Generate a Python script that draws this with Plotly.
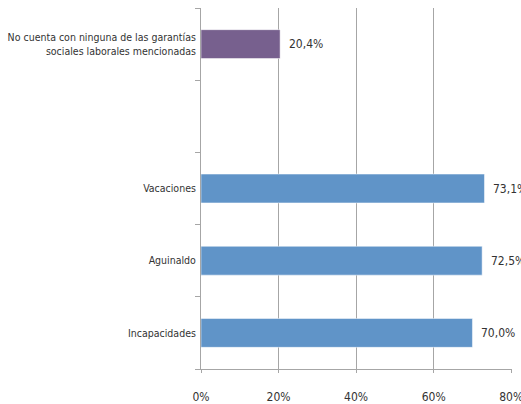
import plotly.graph_objects as go

# data (bottom to top)
categories = [
    "Incapacidades",
    "Aguinaldo",
    "Vacaciones",
    " ",
    "No cuenta con ninguna de las garantías<br>sociales laborales mencionadas",
]
values = [70.0, 72.5, 73.1, None, 20.4]
labels = ["70,0%", "72,5%", "73,1%", "", "20,4%"]
bar_colors = ["#6094c8", "#6094c8", "#6094c8", "#6094c8", "#77608e"]
x_ticks = [0, 20, 40, 60, 80]
x_ticktext = ["0%", "20%", "40%", "60%", "80%"]

FONT = "'Liberation Sans Narrow', 'DejaVu Sans Condensed', sans-serif"
line_col = "#a6a6a6"

fig = go.Figure()
fig.add_trace(go.Bar(
    y=categories, x=values, orientation="h",
    marker=dict(color=bar_colors, line=dict(color="#ffffff", width=0.5)),
    width=0.4,
    hoverinfo="skip",
))

# value labels right of each bar
for c, v, t in zip(categories, values, labels):
    if v is None:
        continue
    fig.add_annotation(x=v, y=c, text=t, showarrow=False,
                       xanchor="left", xshift=7,
                       font=dict(family=FONT, size=12, color="#333333"))

fig.update_layout(
    width=521, height=404,
    margin=dict(l=201, r=9, t=8, b=35),
    paper_bgcolor="white", plot_bgcolor="white",
    showlegend=False,
    font=dict(family=FONT, size=12, color="#333333"),
)
fig.update_xaxes(
    range=[0, 80.2], tickvals=x_ticks, ticktext=x_ticktext,
    showgrid=True, gridcolor=line_col, gridwidth=1,
    showline=True, linecolor=line_col, linewidth=1,
    ticks="outside", ticklen=3, tickcolor=line_col,
    ticklabelstandoff=14, zeroline=False, automargin=False,
    ticklabeloverflow="allow",
)
fig.update_yaxes(
    type="category", categoryorder="array", categoryarray=categories,
    showgrid=False, showline=True, linecolor=line_col, linewidth=1,
    ticks="outside", ticklen=5, tickcolor=line_col, tickson="boundaries",
    ticklabelstandoff=2, automargin=False, tickfont=dict(size=10.5),
)

# drop the browser's default body margin so the figure sits at 0,0
fig.write_html("out.html", config={"displayModeBar": False},
               post_script="document.body.style.margin='0';")
